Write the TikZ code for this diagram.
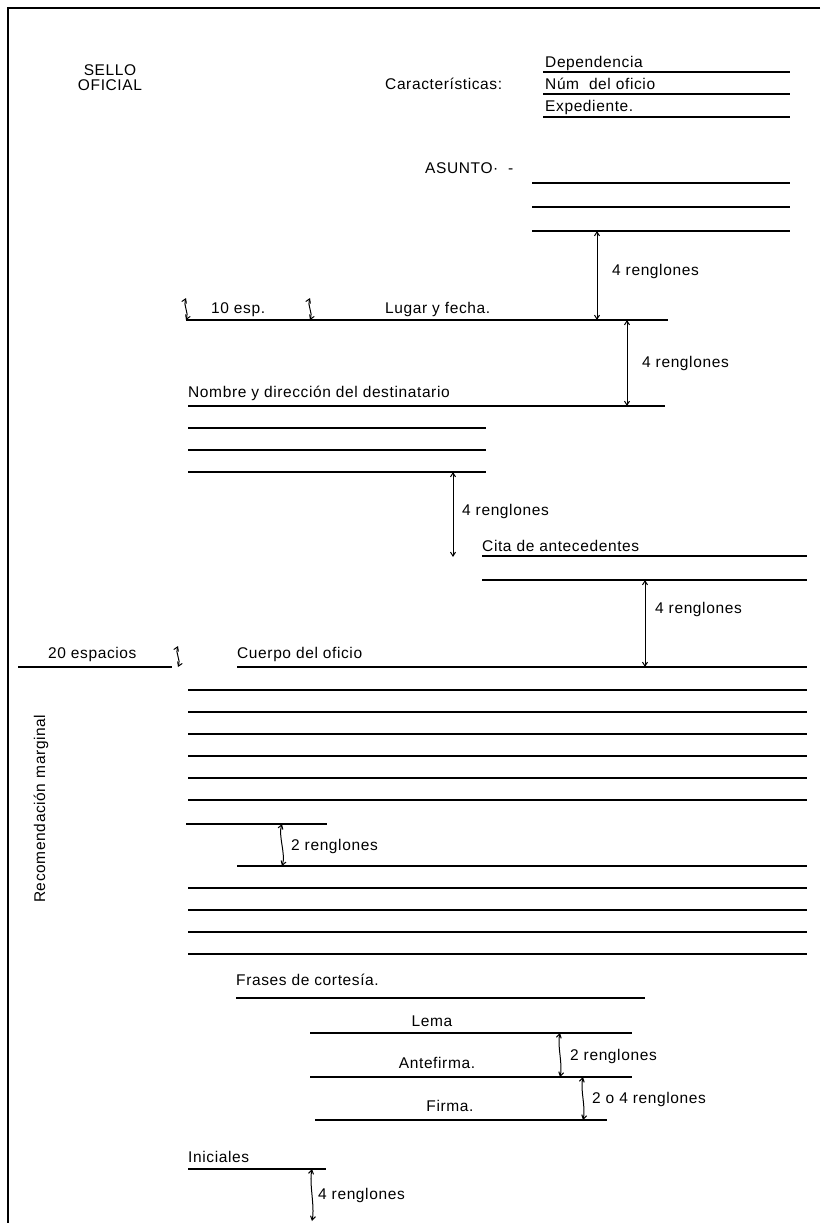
\documentclass[tikz,border=0pt]{standalone}
\usepackage{fontspec}
\setmainfont{Liberation Sans}[LetterSpace=4]
\usetikzlibrary{arrows.meta}
\tikzset{
        renglon/.style={line width=1.6pt},
        medida/.style={line width=1pt, {Straight Barb[length=4pt,width=5pt]}-{Straight Barb[length=4pt,width=5pt]}},
        txt/.style={inner sep=0pt, anchor=base west, font=\fontsize{15.5}{17}\selectfont},
        ctxt/.style={txt, anchor=base},
}
\begin{document}
\begin{tikzpicture}[x=1pt, y=-1pt]
        \useasboundingbox (0, 0) rectangle (820, 1223);
        \draw[renglon] (820, 8) -- (8, 8) -- (8, 1223);

        \node[ctxt] (sello) at (110, 75) {SELLO};
        \node[ctxt] (oficial) at (110, 90) {OFICIAL};
        \node[txt] (caract) at (385, 89) {Características:};
        \node[txt] (dep) at (545, 67) {Dependencia};
        \node[txt] (num) at (545, 89) {Núm\ \ del oficio};
        \node[txt] (exped) at (545, 111) {Expediente.};
        \foreach \y in {72, 94, 117} {
                \draw[renglon] (543, \y) -- (790, \y);
            }

        \node[txt] (asunto) at (425, 173) {ASUNTO·\ \ -};
        \foreach \y in {183, 207, 231} {
                \draw[renglon] (532, \y) -- (790, \y);
            }

        \coordinate (a1) at (597, 231);
        \coordinate (a2) at (597, 320);
        \draw[medida] (a1) -- (a2);
        \node[txt] (ren1) at (612, 275) {4 renglones};

        \coordinate (e1) at (186, 298);
        \coordinate (e2) at (186, 320);
        \coordinate (e3) at (310, 298);
        \coordinate (e4) at (310, 320);
        \draw[medida] (e1) .. controls +(-3, 7) and +(3, -7) .. (e2);
        \draw[medida] (e3) .. controls +(-3, 7) and +(3, -7) .. (e4);
        \node[txt] (diez) at (211, 313) {10 esp.};
        \node[txt] (lugar) at (385, 313) {Lugar y fecha.};
        \draw[renglon] (186, 320) -- (668, 320);

        \coordinate (b1) at (627, 320);
        \coordinate (b2) at (627, 406);
        \draw[medida] (b1) -- (b2);
        \node[txt] (ren2) at (642, 367) {4 renglones};

        \node[txt] (nombre) at (188, 397) {Nombre y dirección del destinatario};
        \draw[renglon] (188, 406) -- (665, 406);
        \foreach \y in {428, 450, 472} {
                \draw[renglon] (188, \y) -- (486, \y);
            }

        \coordinate (c1) at (453, 472);
        \coordinate (c2) at (453, 557);
        \draw[medida] (c1) -- (c2);
        \node[txt] (ren3) at (462, 515) {4 renglones};

        \node[txt] (cita) at (482, 551) {Cita de antecedentes};
        \foreach \y in {556, 580} {
                \draw[renglon] (482, \y) -- (807, \y);
            }

        \coordinate (d1) at (645, 580);
        \coordinate (d2) at (645, 667);
        \draw[medida] (d1) -- (d2);
        \node[txt] (ren4) at (655, 613) {4 renglones};

        \node[txt] (veinte) at (48, 658) {20 espacios};
        \draw[renglon] (18, 667) -- (172, 667);
        \coordinate (v1) at (178, 646);
        \coordinate (v2) at (178, 667);
        \draw[medida] (v1) .. controls +(-3, 7) and +(3, -7) .. (v2);

        \node[txt] (cuerpo) at (237, 658) {Cuerpo del oficio};
        \draw[renglon] (237, 667) -- (807, 667);
        \foreach \y in {690, 712, 734, 756, 778, 800, 888, 910, 932, 954} {
                \draw[renglon] (188, \y) -- (807, \y);
            }
        \draw[renglon] (186, 824) -- (327, 824);
        \draw[renglon] (237, 866) -- (807, 866);
        \coordinate (f1) at (282, 824);
        \coordinate (f2) at (282, 866);
        \draw[medida] (f1) .. controls +(-4, 12) and +(4, -12) .. (f2);
        \node[txt] (ren5) at (291, 850) {2 renglones};

        \node[txt, rotate=90] (recom) at (45, 903) {Recomendación marginal};

        \node[txt] (frases) at (236, 985) {Frases de cortesía.};
        \draw[renglon] (236, 998) -- (645, 998);
        \node[ctxt] (lema) at (432, 1026) {Lema};
        \draw[renglon] (310, 1033) -- (632, 1033);
        \node[ctxt] (antefirma) at (437, 1068) {Antefirma.};
        \draw[renglon] (310, 1077) -- (632, 1077);
        \node[ctxt] (firma) at (450, 1111) {Firma.};
        \draw[renglon] (315, 1120) -- (607, 1120);

        \coordinate (g1) at (560, 1033);
        \coordinate (g2) at (560, 1077);
        \draw[medida] (g1) .. controls +(-3, 12) and +(3, -12) .. (g2);
        \node[txt] (ren6) at (570, 1060) {2 renglones};
        \coordinate (h1) at (583, 1077);
        \coordinate (h2) at (583, 1120);
        \draw[medida] (h1) .. controls +(-3, 12) and +(3, -12) .. (h2);
        \node[txt] (ren7) at (592, 1103) {2 o 4 renglones};

        \node[txt] (iniciales) at (188, 1162) {Iniciales};
        \draw[renglon] (188, 1169) -- (326, 1169);
        \coordinate (i1) at (312, 1169);
        \coordinate (i2) at (312, 1221);
        \draw[medida] (i1) .. controls +(-3, 15) and +(3, -15) .. (i2);
        \node[txt] (ren8) at (318, 1199) {4 renglones};
    \end{tikzpicture}
\end{document}
